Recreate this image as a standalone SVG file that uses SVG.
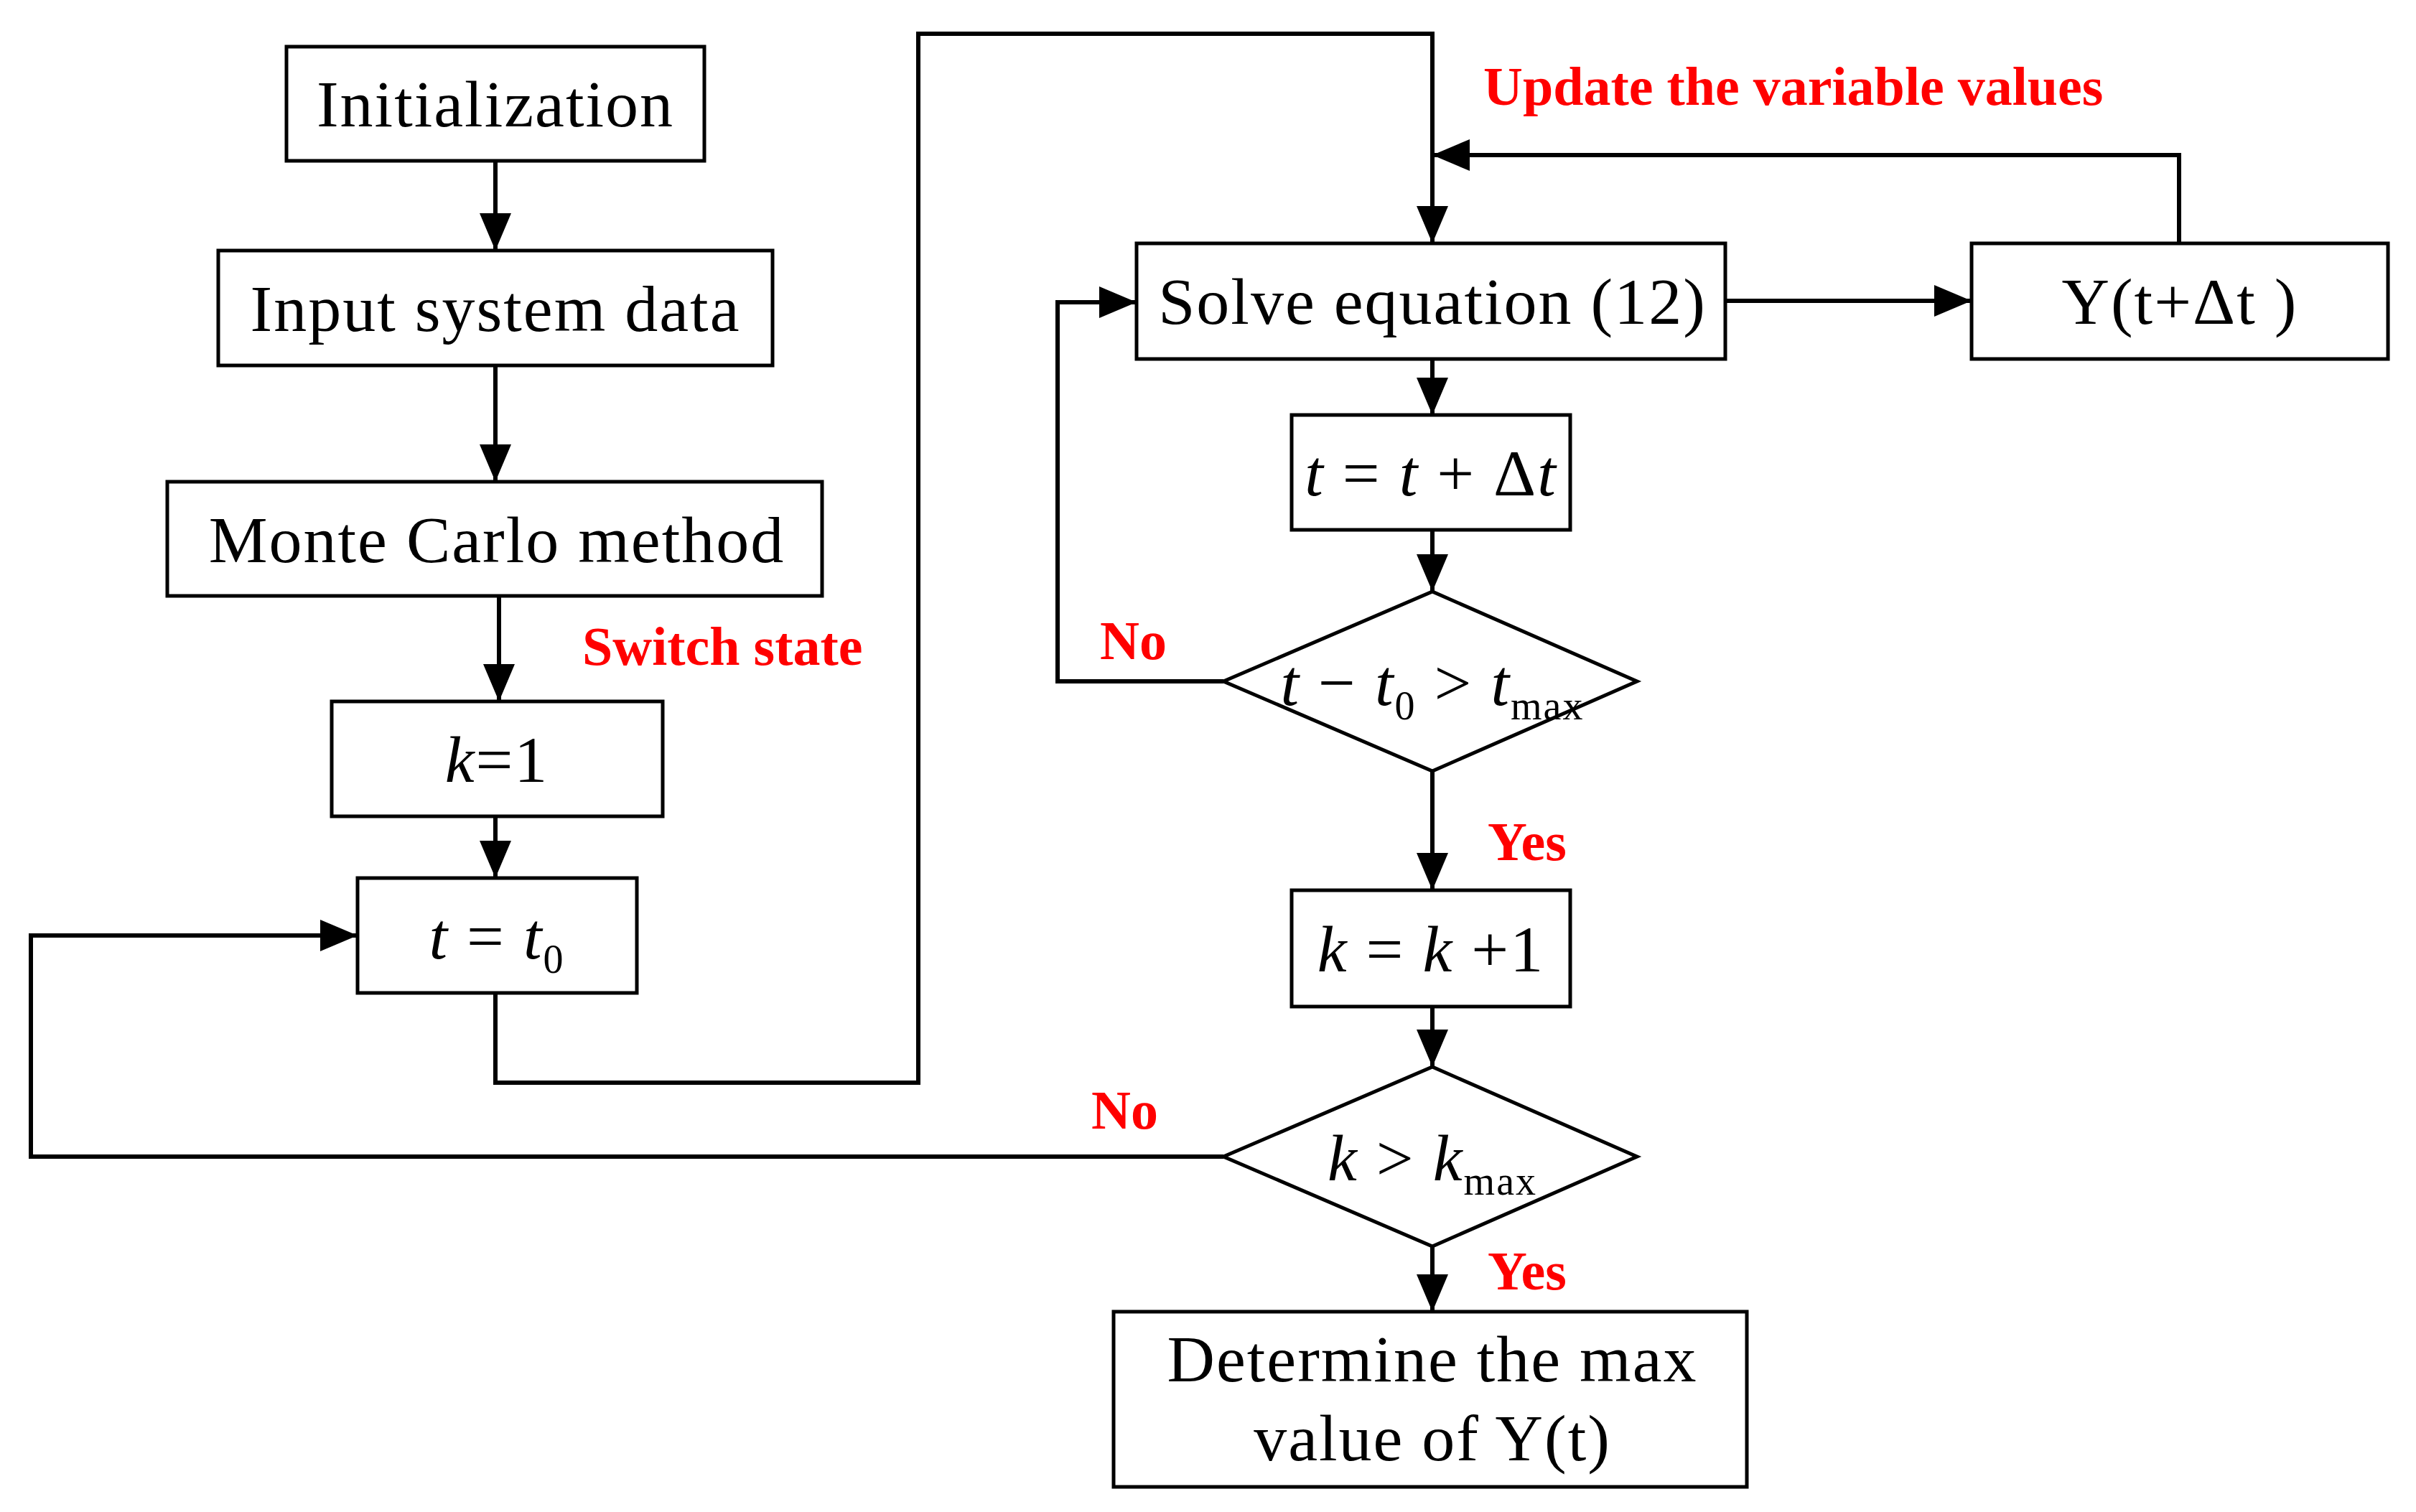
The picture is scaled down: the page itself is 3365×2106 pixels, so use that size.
<svg xmlns="http://www.w3.org/2000/svg" width="3365" height="2106" viewBox="0 0 3365 2106">
<style>
.b{fill:#fff;stroke:#000;stroke-width:5}
.t{font-family:"Liberation Serif",serif;font-size:92px;fill:#000;text-anchor:middle;letter-spacing:2px}
.i{font-style:italic}
.s{font-size:56px}
.r{font-family:"Liberation Serif",serif;font-size:76px;font-weight:bold;fill:#ff0000}
.c{fill:none;stroke:#000;stroke-width:6}
</style>
<defs>
<marker id="a" markerWidth="10" markerHeight="10" refX="10" refY="5" orient="auto" markerUnits="userSpaceOnUse" viewBox="0 0 10 10" style="overflow:visible">
<path d="M0,0 L10,5 L0,10 Z" fill="#000" transform="scale(1)"/>
</marker>
<marker id="A" markerWidth="52" markerHeight="44" refX="52" refY="22" orient="auto" markerUnits="userSpaceOnUse">
<path d="M0,0 L52,22 L0,44 Z" fill="#000"/>
</marker>
</defs>
<g id="connectors">
<path class="c" d="M690,224 V349" marker-end="url(#A)"/>
<path class="c" d="M690,509 V671" marker-end="url(#A)"/>
<path class="c" d="M695,830 V977" marker-end="url(#A)"/>
<path class="c" d="M690,1137 V1223" marker-end="url(#A)"/>
<path class="c" d="M690,1383 V1508 H1279 V47 H1995 V339" marker-end="url(#A)"/>
<path class="c" d="M3035,339 V216 H1995" marker-end="url(#A)"/>
<path class="c" d="M2403,419 H2746" marker-end="url(#A)"/>
<path class="c" d="M1995,500 V578" marker-end="url(#A)"/>
<path class="c" d="M1995,738 V824" marker-end="url(#A)"/>
<path class="c" d="M1704,949 H1473 V421 H1583" marker-end="url(#A)"/>
<path class="c" d="M1995,1074 V1240" marker-end="url(#A)"/>
<path class="c" d="M1995,1402 V1486" marker-end="url(#A)"/>
<path class="c" d="M1704,1611 H43 V1303 H498" marker-end="url(#A)"/>
<path class="c" d="M1995,1736 V1827" marker-end="url(#A)"/>
<text class="r" x="811" y="926">Switch state</text>
<text class="r" x="2066" y="146">Update the variable values</text>
<text class="r" x="1532" y="918">No</text>
<text class="r" x="2072" y="1198">Yes</text>
<text class="r" x="1520" y="1572">No</text>
<text class="r" x="2072" y="1796">Yes</text>
</g>
<g id="init"><rect class="b" x="399" y="65" width="582" height="159"/><text class="t" x="690" y="176">Initialization</text></g>
<g id="input"><rect class="b" x="304" y="349" width="772" height="160"/><text class="t" x="690" y="461">Input system data</text></g>
<g id="monte"><rect class="b" x="233" y="671" width="912" height="159"/><text class="t" x="692" y="783">Monte Carlo method</text></g>
<g id="k1"><rect class="b" x="462" y="977" width="461" height="160"/><text class="t" x="692" y="1089"><tspan class="i">k</tspan>=1</text></g>
<g id="tt0"><rect class="b" x="498" y="1223" width="389" height="160"/><text class="t" x="692" y="1335"><tspan class="i">t</tspan> = <tspan class="i">t</tspan><tspan class="s" dy="20">0</tspan></text></g>
<g id="solve"><rect class="b" x="1583" y="339" width="820" height="161"/><text class="t" x="1995" y="451">Solve equation (12)</text></g>
<g id="ydt"><rect class="b" x="2746" y="339" width="580" height="161"/><text class="t" x="3036" y="451">Y(t+Δt )</text></g>
<g id="tdt"><rect class="b" x="1799" y="578" width="388" height="160"/><text class="t" x="1993" y="690"><tspan class="i">t</tspan> = <tspan class="i">t</tspan> + Δ<tspan class="i">t</tspan></text></g>
<g id="d1"><polygon class="b" points="1704,949 1995,824 2280,949 1995,1074"/><text class="t" x="1995" y="982"><tspan class="i">t</tspan> − <tspan class="i">t</tspan><tspan class="s" dy="20">0</tspan><tspan dy="-20"> &gt; </tspan><tspan class="i">t</tspan><tspan class="s" dy="20">max</tspan></text></g>
<g id="kk1"><rect class="b" x="1799" y="1240" width="388" height="162"/><text class="t" x="1993" y="1353"><tspan class="i">k</tspan> = <tspan class="i">k</tspan> +1</text></g>
<g id="d2"><polygon class="b" points="1704,1611 1995,1486 2280,1611 1995,1736"/><text class="t" x="1995" y="1644"><tspan class="i">k</tspan> &gt; <tspan class="i">k</tspan><tspan class="s" dy="20">max</tspan></text></g>
<g id="det"><rect class="b" x="1551" y="1827" width="882" height="244"/><text class="t" x="1995" y="1924">Determine the max</text><text class="t" x="1995" y="2034">value of Y(t)</text></g>
</svg>
